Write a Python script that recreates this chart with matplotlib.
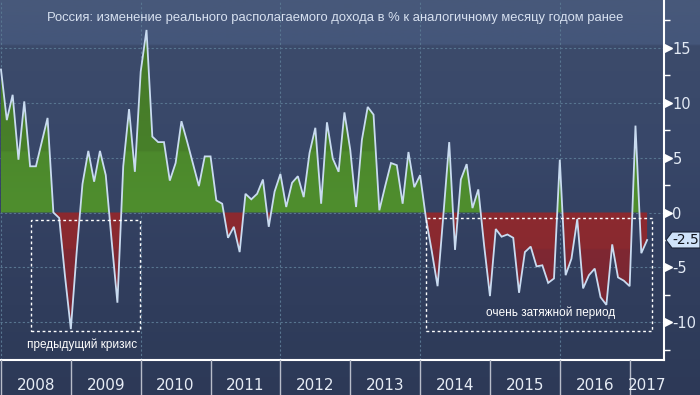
import numpy as np
import matplotlib
matplotlib.use('Agg')
import matplotlib.pyplot as plt
from matplotlib.colors import to_rgb
from matplotlib.path import Path
from matplotlib.patches import Rectangle, Polygon
import matplotlib.transforms as mtransforms

plt.rcParams['axes.unicode_minus'] = False

# ---- data (monthly, y/y % change of real disposable income) ----
values = [13.0, 8.4, 10.7, 4.8, 10.1, 4.2, 4.2, 6.4, 8.6, 0.0, -0.5, -5.8,
          -10.6, -3.6, 2.6, 5.6, 2.8, 5.6, 3.4, -2.5, -8.2, 4.2, 9.4, 3.7,
          12.8, 16.6, 6.9, 6.4, 6.4, 2.9, 4.5, 8.3, 6.4, 4.4, 2.4, 5.1,
          5.1, 1.1, 0.8, -2.3, -1.3, -3.6, 1.7, 1.2, 1.7, 3.0, -1.3, 1.9,
          3.5, 0.5, 2.7, 3.3, 1.4, 5.4, 7.7, 0.8, 8.2, 4.9, 3.7, 9.1,
          5.7, 0.5, 6.6, 9.6, 8.9, 0.2, 2.4, 4.5, 4.3, 0.8, 5.5, 2.3,
          3.4, -0.5, -3.5, -6.7, -0.2, 6.4, -3.4, 3.0, 4.4, 0.4, 2.1, -3.0,
          -7.6, -1.5, -2.2, -2.0, -2.3, -7.3, -3.6, -3.1, -4.9, -4.8, -6.4, -6.0,
          4.8, -5.7, -4.2, -0.6, -6.9, -5.7, -5.1, -7.7, -8.4, -2.9, -5.9, -6.2,
          -6.7, 7.9, -3.7, -2.5]
years = ['2008', '2009', '2010', '2011', '2012', '2013', '2014', '2015', '2016', '2017']
yticks = [15, 10, 5, 0, -5, -10]
last_label = '-2.5'
title = 'Россия: изменение реального располагаемого дохода в % к аналогичному месяцу годом ранее'
note1 = 'предыдущий кризис'
note2 = 'очень затяжной период'

v = np.array(values)
x = np.arange(len(v), dtype=float)

W, H = 700, 395
fig = plt.figure(figsize=(W / 100, H / 100), dpi=100)

def fx(p):
    return p / W

def fy(p):
    return 1 - p / H

def grad_img(stops, n=400):
    ys_ = np.linspace(0, 1, n)
    pos = [s[0] for s in stops]
    cols = np.array([to_rgb(s[1]) for s in stops])
    img = np.zeros((n, 1, 3))
    for c in range(3):
        img[:, 0, c] = np.interp(ys_, pos, cols[:, c])
    return img

# ---- background gradient (figure) ----
bg = fig.add_axes([0, 0, 1, 1], zorder=-10)
bg.axis('off')
bg_stops = [(0, '#48597a'), (44 / H, '#44567a'), (45 / H, '#3c4b6b'), (150 / H, '#384769'),
            (250 / H, '#323f5f'), (360 / H, '#2e3b59'), (1, '#2d3957')]
bg.imshow(grad_img(bg_stops), extent=[0, 1, 0, 1], origin='upper', aspect='auto')
bg.set_xlim(0, 1)
bg.set_ylim(0, 1)

# ---- main axes ----
ymin, ymax = -13.41, 19.32
xmin, xmax = -0.17, 113.9
ax = fig.add_axes([0, fy(360), fx(664), 360 / H])
ax.set_facecolor('none')
ax.set_xlim(xmin, xmax)
ax.set_ylim(ymin, ymax)

# grid
gcol = '#587590'
for yt in yticks:
    ax.axhline(yt, color=gcol, lw=0.8, ls=(0, (2, 2)), zorder=1)
for k in range(0, len(years), 2):
    ax.axvline(12 * k, color=gcol, lw=0.8, ls=(0, (2, 2)), zorder=1)

# fills with vertical gradients clipped to the area polygons
def grad_fill(where, stops):
    pc = ax.fill_between(x, v, 0, where=where, interpolate=True, color='none', lw=0)
    paths = pc.get_paths()
    comp = Path.make_compound_path(*paths)
    img = grad_img(stops)
    im = ax.imshow(img, extent=[xmin, xmax, ymin, ymax], origin='lower',
                   aspect='auto', zorder=2)
    im.set_clip_path(comp, transform=ax.transData)

def ys(val):
    return (val - ymin) / (ymax - ymin)

green_stops = [(ys(0), '#4f8e2e'), (ys(5.5), '#4c892c'), (ys(5.6), '#48802a'), (1, '#447628')]
red_stops = [(0, '#722533'), (ys(-3.4), '#7f2832'), (ys(-3.3), '#89292f'), (ys(0), '#8c2a30')]
grad_fill(v >= 0, [(0, '#4f8e2e')] + green_stops)
grad_fill(v <= 0, red_stops + [(1, '#8c2a30')])

ax.plot(x, v, color='#c9dbf0', lw=1.3, zorder=5, solid_joinstyle='miter')

# dashed annotation boxes
ax.add_patch(Rectangle((5.1, -10.8), 23.9 - 5.1, 10.1, fill=False, ec='white',
                       lw=1, ls=(0, (2, 2)), zorder=6))
ax.add_patch(Rectangle((73.0, -10.77), 111.9 - 73.0, 10.24, fill=False, ec='white',
                       lw=1, ls=(0, (2, 2)), zorder=6))
ax.text(14.0, -12.05, note1, ha='center', va='center', color='white',
        fontsize=8.5, family='Liberation Sans', zorder=7)
ax.text(94.5, -9.1, note2, ha='center', va='center', color='white',
        fontsize=8.5, family='Liberation Sans', zorder=7)

# spines / ticks
for s in ['top', 'left']:
    ax.spines[s].set_visible(False)
ax.spines['right'].set_color('white')
ax.spines['bottom'].set_color('white')
ax.spines['right'].set_linewidth(1.5)
ax.spines['bottom'].set_linewidth(1.5)
ax.set_xticks([])
ax.yaxis.tick_right()
ax.set_yticks(yticks)
ax.set_yticks(np.arange(-12.5, 19, 5), minor=True)
ax.set_yticklabels([str(t) for t in yticks], family='Liberation Sans Narrow',
                   fontsize=10.5, color='#e2e9f4')
ax.tick_params(axis='y', which='major', length=0, pad=6)
ax.tick_params(axis='y', which='minor', length=4, width=1, color='white', direction='out')
tri_tr = mtransforms.blended_transform_factory(ax.transAxes, ax.transData)
ax.plot([1 + 3.5 / 664] * len(yticks), yticks, transform=tri_tr, ls='none',
        marker='>', ms=5.5, color='white', clip_on=False, zorder=8)

# last value tag
ty = ax.transData.transform((0, v[-1]))[1] / fig.dpi / (H / 100)
hh = 8 / H
poly = Polygon([(fx(666), ty), (fx(672), ty + hh), (fx(700), ty + hh),
                (fx(700), ty - hh), (fx(672), ty - hh)], closed=True,
               transform=fig.transFigure, fc='#cfe3fa', ec='#1a2438', lw=0.8,
               zorder=20, clip_on=False)
fig.add_artist(poly)
fig.text(fx(672.5), ty, last_label, ha='left', va='center', color='#10141c',
         fontsize=10, family='Liberation Sans Narrow', zorder=21)

# title
fig.text(fx(335), fy(18), title, ha='center', va='center', color='#d7e1f0',
         fontsize=9.4, family='Liberation Sans')

# ---- x band with years ----
axb = fig.add_axes([0, 0, fx(664), 35 / H])
axb.set_facecolor('none')
axb.set_xlim(xmin, xmax)
axb.set_ylim(0, 1)
axb.axis('off')
for k in range(len(years)):
    axb.plot([12 * k, 12 * k], [0, 1], color='#b8bdca', lw=1)
    cx = 12 * k + 6 if k < len(years) - 1 else (12 * k + xmax) / 2
    axb.text(cx, 0.28, years[k], ha='center', va='center', color='#e6ecf5',
             fontsize=11, family='Liberation Sans Narrow')

fig.savefig('out.png', dpi=100)
